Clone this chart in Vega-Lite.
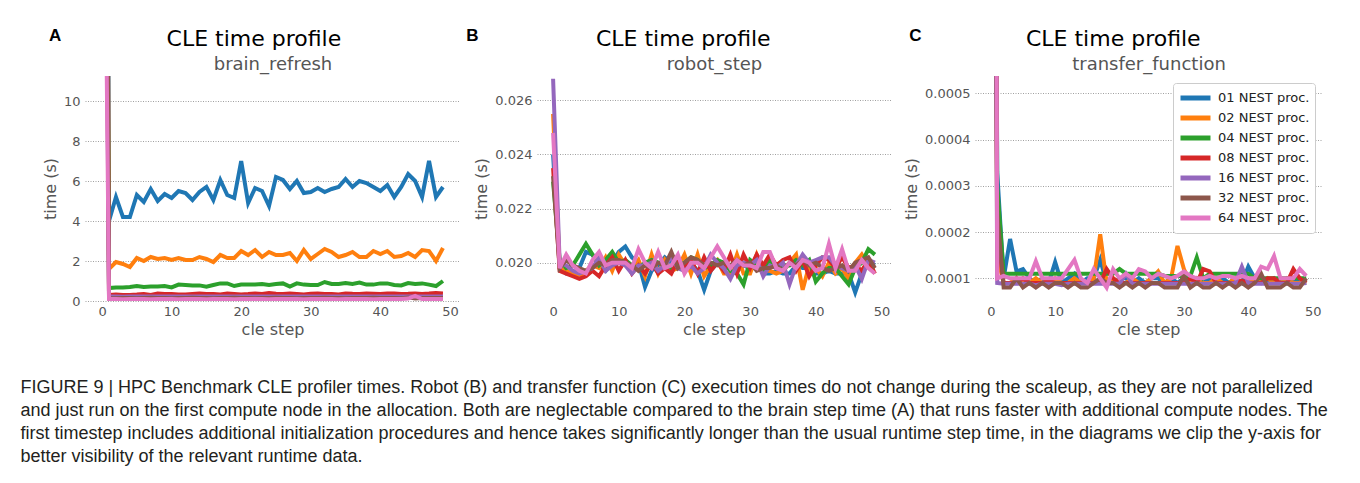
{
"$schema": "https://vega.github.io/schema/vega-lite/v6.json",
"background": "white",
"padding": {"left": 20, "top": 26, "right": 0, "bottom": 0},
"data": {"values": [
{"p":"A","s":0,"01":100,"02":80,"04":60,"08":50,"16":45,"32":90,"64":35},
{"p":"A","s":1,"01":4.0,"02":1.6,"04":0.65,"08":0.30,"16":0.22,"32":0.15,"64":0.10},
{"p":"A","s":2,"01":5.2,"02":1.95,"04":0.68,"08":0.32,"16":0.22,"32":0.14,"64":0.10},
{"p":"A","s":3,"01":4.2,"02":1.85,"04":0.68,"08":0.30,"16":0.21,"32":0.15,"64":0.09},
{"p":"A","s":4,"01":4.2,"02":1.7,"04":0.70,"08":0.30,"16":0.22,"32":0.15,"64":0.10},
{"p":"A","s":5,"01":5.3,"02":2.15,"04":0.75,"08":0.32,"16":0.22,"32":0.14,"64":0.10},
{"p":"A","s":6,"01":4.95,"02":2.0,"04":0.70,"08":0.35,"16":0.23,"32":0.15,"64":0.10},
{"p":"A","s":7,"01":5.6,"02":2.2,"04":0.72,"08":0.30,"16":0.22,"32":0.16,"64":0.09},
{"p":"A","s":8,"01":5.0,"02":2.1,"04":0.72,"08":0.38,"16":0.22,"32":0.15,"64":0.10},
{"p":"A","s":9,"01":5.35,"02":2.15,"04":0.75,"08":0.35,"16":0.23,"32":0.15,"64":0.10},
{"p":"A","s":10,"01":5.15,"02":2.05,"04":0.68,"08":0.35,"16":0.22,"32":0.14,"64":0.10},
{"p":"A","s":11,"01":5.5,"02":2.15,"04":0.82,"08":0.33,"16":0.22,"32":0.15,"64":0.09},
{"p":"A","s":12,"01":5.4,"02":2.05,"04":0.80,"08":0.32,"16":0.23,"32":0.15,"64":0.10},
{"p":"A","s":13,"01":5.05,"02":2.05,"04":0.78,"08":0.35,"16":0.22,"32":0.16,"64":0.10},
{"p":"A","s":14,"01":5.45,"02":2.2,"04":0.78,"08":0.38,"16":0.22,"32":0.15,"64":0.10},
{"p":"A","s":15,"01":5.7,"02":2.1,"04":0.72,"08":0.35,"16":0.23,"32":0.15,"64":0.09},
{"p":"A","s":16,"01":5.05,"02":1.95,"04":0.80,"08":0.35,"16":0.22,"32":0.14,"64":0.10},
{"p":"A","s":17,"01":6.05,"02":2.3,"04":0.88,"08":0.33,"16":0.22,"32":0.15,"64":0.10},
{"p":"A","s":18,"01":5.3,"02":2.15,"04":0.88,"08":0.37,"16":0.23,"32":0.15,"64":0.10},
{"p":"A","s":19,"01":5.15,"02":2.15,"04":0.75,"08":0.35,"16":0.22,"32":0.16,"64":0.09},
{"p":"A","s":20,"01":7.0,"02":2.5,"04":0.82,"08":0.33,"16":0.22,"32":0.15,"64":0.10},
{"p":"A","s":21,"01":4.9,"02":2.3,"04":0.82,"08":0.35,"16":0.23,"32":0.15,"64":0.10},
{"p":"A","s":22,"01":5.65,"02":2.55,"04":0.82,"08":0.38,"16":0.22,"32":0.14,"64":0.10},
{"p":"A","s":23,"01":5.5,"02":2.2,"04":0.85,"08":0.35,"16":0.22,"32":0.15,"64":0.10},
{"p":"A","s":24,"01":4.75,"02":2.45,"04":0.80,"08":0.40,"16":0.23,"32":0.15,"64":0.09},
{"p":"A","s":25,"01":6.2,"02":2.3,"04":0.85,"08":0.36,"16":0.22,"32":0.16,"64":0.10},
{"p":"A","s":26,"01":6.05,"02":2.3,"04":0.88,"08":0.35,"16":0.22,"32":0.15,"64":0.10},
{"p":"A","s":27,"01":5.6,"02":2.4,"04":0.72,"08":0.37,"16":0.23,"32":0.15,"64":0.10},
{"p":"A","s":28,"01":6.0,"02":2.0,"04":0.88,"08":0.35,"16":0.22,"32":0.14,"64":0.10},
{"p":"A","s":29,"01":5.4,"02":2.55,"04":0.82,"08":0.33,"16":0.22,"32":0.15,"64":0.09},
{"p":"A","s":30,"01":5.45,"02":2.1,"04":0.80,"08":0.36,"16":0.23,"32":0.15,"64":0.10},
{"p":"A","s":31,"01":5.65,"02":2.35,"04":0.80,"08":0.37,"16":0.22,"32":0.15,"64":0.10},
{"p":"A","s":32,"01":5.45,"02":2.6,"04":0.95,"08":0.35,"16":0.22,"32":0.16,"64":0.10},
{"p":"A","s":33,"01":5.6,"02":2.45,"04":0.85,"08":0.35,"16":0.23,"32":0.15,"64":0.10},
{"p":"A","s":34,"01":5.7,"02":2.2,"04":0.85,"08":0.33,"16":0.22,"32":0.15,"64":0.09},
{"p":"A","s":35,"01":6.1,"02":2.3,"04":0.90,"08":0.38,"16":0.22,"32":0.14,"64":0.10},
{"p":"A","s":36,"01":5.7,"02":2.45,"04":0.85,"08":0.36,"16":0.23,"32":0.15,"64":0.10},
{"p":"A","s":37,"01":6.0,"02":2.2,"04":0.92,"08":0.35,"16":0.22,"32":0.15,"64":0.10},
{"p":"A","s":38,"01":5.9,"02":2.2,"04":0.82,"08":0.37,"16":0.22,"32":0.15,"64":0.10},
{"p":"A","s":39,"01":5.7,"02":2.5,"04":0.82,"08":0.36,"16":0.23,"32":0.16,"64":0.09},
{"p":"A","s":40,"01":5.5,"02":2.35,"04":0.88,"08":0.35,"16":0.22,"32":0.15,"64":0.10},
{"p":"A","s":41,"01":5.8,"02":2.5,"04":0.88,"08":0.37,"16":0.22,"32":0.15,"64":0.10},
{"p":"A","s":42,"01":5.2,"02":2.2,"04":0.80,"08":0.38,"16":0.23,"32":0.15,"64":0.10},
{"p":"A","s":43,"01":5.7,"02":2.25,"04":0.78,"08":0.35,"16":0.22,"32":0.14,"64":0.10},
{"p":"A","s":44,"01":6.35,"02":2.4,"04":0.90,"08":0.36,"16":0.22,"32":0.18,"64":0.12},
{"p":"A","s":45,"01":6.0,"02":2.2,"04":0.85,"08":0.38,"16":0.23,"32":0.12,"64":0.25},
{"p":"A","s":46,"01":5.2,"02":2.55,"04":0.88,"08":0.35,"16":0.22,"32":0.15,"64":0.10},
{"p":"A","s":47,"01":7.0,"02":2.5,"04":0.82,"08":0.37,"16":0.22,"32":0.15,"64":0.10},
{"p":"A","s":48,"01":5.2,"02":2.0,"04":0.75,"08":0.40,"16":0.23,"32":0.15,"64":0.10},
{"p":"A","s":49,"01":5.7,"02":2.65,"04":1.0,"08":0.38,"16":0.22,"32":0.15,"64":0.10},
{"p":"B","s":0,"01":0.0240,"02":0.0255,"04":0.0230,"08":0.0235,"16":0.0268,"32":0.0232,"64":0.0248},
{"p":"B","s":1,"01":0.0198,"02":0.0198,"04":0.0201,"08":0.0197,"16":0.0200,"32":0.0198,"64":0.0198},
{"p":"B","s":2,"01":0.0196,"02":0.0197,"04":0.0198,"08":0.0196,"16":0.0199,"32":0.0201,"64":0.0203},
{"p":"B","s":3,"01":0.0196,"02":0.0196,"04":0.0199,"08":0.0195,"16":0.0197,"32":0.0199,"64":0.0199},
{"p":"B","s":4,"01":0.0198,"02":0.0195,"04":0.0203,"08":0.0194,"16":0.0196,"32":0.0198,"64":0.0197},
{"p":"B","s":5,"01":0.0204,"02":0.0197,"04":0.0207,"08":0.0195,"16":0.0197,"32":0.0197,"64":0.0196},
{"p":"B","s":6,"01":0.0203,"02":0.0199,"04":0.0203,"08":0.0197,"16":0.0198,"32":0.0198,"64":0.0201},
{"p":"B","s":7,"01":0.0199,"02":0.0198,"04":0.0199,"08":0.0195,"16":0.0202,"32":0.0200,"64":0.0204},
{"p":"B","s":8,"01":0.0197,"02":0.0202,"04":0.0201,"08":0.0199,"16":0.0197,"32":0.0199,"64":0.0199},
{"p":"B","s":9,"01":0.0200,"02":0.0197,"04":0.0204,"08":0.0202,"16":0.0199,"32":0.0201,"64":0.0200},
{"p":"B","s":10,"01":0.0204,"02":0.0203,"04":0.0200,"08":0.0197,"16":0.0200,"32":0.0201,"64":0.0200},
{"p":"B","s":11,"01":0.0206,"02":0.0199,"04":0.0201,"08":0.0201,"16":0.0199,"32":0.0200,"64":0.0200},
{"p":"B","s":12,"01":0.0202,"02":0.0198,"04":0.0199,"08":0.0196,"16":0.0196,"32":0.0199,"64":0.0198},
{"p":"B","s":13,"01":0.0200,"02":0.0201,"04":0.0198,"08":0.0199,"16":0.0199,"32":0.0197,"64":0.0205},
{"p":"B","s":14,"01":0.0191,"02":0.0195,"04":0.0200,"08":0.0196,"16":0.0199,"32":0.0199,"64":0.0200},
{"p":"B","s":15,"01":0.0197,"02":0.0203,"04":0.0201,"08":0.0200,"16":0.0200,"32":0.0198,"64":0.0198},
{"p":"B","s":16,"01":0.0199,"02":0.0196,"04":0.0200,"08":0.0196,"16":0.0197,"32":0.0200,"64":0.0204},
{"p":"B","s":17,"01":0.0202,"02":0.0201,"04":0.0199,"08":0.0198,"16":0.0199,"32":0.0199,"64":0.0198},
{"p":"B","s":18,"01":0.0200,"02":0.0197,"04":0.0198,"08":0.0196,"16":0.0202,"32":0.0204,"64":0.0199},
{"p":"B","s":19,"01":0.0201,"02":0.0198,"04":0.0199,"08":0.0201,"16":0.0198,"32":0.0198,"64":0.0203},
{"p":"B","s":20,"01":0.0199,"02":0.0203,"04":0.0200,"08":0.0198,"16":0.0197,"32":0.0200,"64":0.0196},
{"p":"B","s":21,"01":0.0200,"02":0.0196,"04":0.0202,"08":0.0201,"16":0.0199,"32":0.0202,"64":0.0200},
{"p":"B","s":22,"01":0.0197,"02":0.0203,"04":0.0201,"08":0.0196,"16":0.0196,"32":0.0201,"64":0.0200},
{"p":"B","s":23,"01":0.0190,"02":0.0195,"04":0.0198,"08":0.0202,"16":0.0198,"32":0.0199,"64":0.0198},
{"p":"B","s":24,"01":0.0197,"02":0.0199,"04":0.0199,"08":0.0197,"16":0.0203,"32":0.0200,"64":0.0202},
{"p":"B","s":25,"01":0.0200,"02":0.0201,"04":0.0201,"08":0.0200,"16":0.0200,"32":0.0199,"64":0.0206},
{"p":"B","s":26,"01":0.0198,"02":0.0196,"04":0.0200,"08":0.0197,"16":0.0198,"32":0.0200,"64":0.0202},
{"p":"B","s":27,"01":0.0199,"02":0.0196,"04":0.0197,"08":0.0203,"16":0.0194,"32":0.0199,"64":0.0198},
{"p":"B","s":28,"01":0.0197,"02":0.0203,"04":0.0196,"08":0.0196,"16":0.0199,"32":0.0201,"64":0.0201},
{"p":"B","s":29,"01":0.0199,"02":0.0196,"04":0.0192,"08":0.0203,"16":0.0200,"32":0.0199,"64":0.0199},
{"p":"B","s":30,"01":0.0198,"02":0.0196,"04":0.0201,"08":0.0198,"16":0.0199,"32":0.0200,"64":0.0199},
{"p":"B","s":31,"01":0.0200,"02":0.0203,"04":0.0199,"08":0.0203,"16":0.0201,"32":0.0197,"64":0.0198},
{"p":"B","s":32,"01":0.0196,"02":0.0197,"04":0.0197,"08":0.0199,"16":0.0195,"32":0.0198,"64":0.0204},
{"p":"B","s":33,"01":0.0196,"02":0.0197,"04":0.0201,"08":0.0203,"16":0.0199,"32":0.0198,"64":0.0204},
{"p":"B","s":34,"01":0.0197,"02":0.0196,"04":0.0198,"08":0.0199,"16":0.0198,"32":0.0199,"64":0.0198},
{"p":"B","s":35,"01":0.0196,"02":0.0197,"04":0.0199,"08":0.0201,"16":0.0200,"32":0.0197,"64":0.0197},
{"p":"B","s":36,"01":0.0196,"02":0.0200,"04":0.0199,"08":0.0202,"16":0.0192,"32":0.0200,"64":0.0200},
{"p":"B","s":37,"01":0.0199,"02":0.0203,"04":0.0201,"08":0.0197,"16":0.0199,"32":0.0199,"64":0.0198},
{"p":"B","s":38,"01":0.0198,"02":0.0190,"04":0.0199,"08":0.0201,"16":0.0203,"32":0.0201,"64":0.0201},
{"p":"B","s":39,"01":0.0198,"02":0.0199,"04":0.0201,"08":0.0195,"16":0.0200,"32":0.0199,"64":0.0200},
{"p":"B","s":40,"01":0.0196,"02":0.0198,"04":0.0193,"08":0.0199,"16":0.0201,"32":0.0200,"64":0.0197},
{"p":"B","s":41,"01":0.0196,"02":0.0195,"04":0.0196,"08":0.0202,"16":0.0202,"32":0.0198,"64":0.0198},
{"p":"B","s":42,"01":0.0197,"02":0.0200,"04":0.0198,"08":0.0201,"16":0.0202,"32":0.0197,"64":0.0207},
{"p":"B","s":43,"01":0.0196,"02":0.0196,"04":0.0198,"08":0.0198,"16":0.0199,"32":0.0198,"64":0.0198},
{"p":"B","s":44,"01":0.0196,"02":0.0198,"04":0.0195,"08":0.0202,"16":0.0198,"32":0.0199,"64":0.0205},
{"p":"B","s":45,"01":0.0196,"02":0.0194,"04":0.0192,"08":0.0198,"16":0.0197,"32":0.0197,"64":0.0197},
{"p":"B","s":46,"01":0.0189,"02":0.0200,"04":0.0198,"08":0.0199,"16":0.0199,"32":0.0200,"64":0.0197},
{"p":"B","s":47,"01":0.0196,"02":0.0203,"04":0.0200,"08":0.0197,"16":0.0194,"32":0.0201,"64":0.0201},
{"p":"B","s":48,"01":0.0200,"02":0.0199,"04":0.0205,"08":0.0201,"16":0.0201,"32":0.0202,"64":0.0198},
{"p":"B","s":49,"01":0.0199,"02":0.0198,"04":0.0203,"08":0.0196,"16":0.0200,"32":0.0198,"64":0.0196},
{"p":"C","s":0,"01":0.004,"02":0.003,"04":0.004,"08":0.003,"16":0.003,"32":0.003,"64":0.006},
{"p":"C","s":1,"01":0.00033,"02":0.00015,"04":0.0003,"08":0.0002,"16":0.00009,"32":0.00024,"64":0.0001},
{"p":"C","s":2,"01":0.0001,"02":0.00009,"04":0.00011,"08":0.00009,"16":0.000088,"32":0.00008,"64":0.000105},
{"p":"C","s":3,"01":0.000185,"02":0.00009,"04":0.00011,"08":0.00009,"16":0.000088,"32":0.00008,"64":0.0001},
{"p":"C","s":4,"01":0.000115,"02":0.0001,"04":0.00011,"08":0.00009,"16":0.000088,"32":0.0001,"64":0.0001},
{"p":"C","s":5,"01":0.00012,"02":0.00009,"04":0.00011,"08":0.0001,"16":0.000088,"32":0.00008,"64":0.0001},
{"p":"C","s":6,"01":0.0001,"02":0.00009,"04":0.00011,"08":0.00009,"16":0.000088,"32":0.00009,"64":0.0001},
{"p":"C","s":7,"01":0.00009,"02":0.0001,"04":0.00011,"08":0.00009,"16":0.000085,"32":0.00008,"64":0.000137},
{"p":"C","s":8,"01":0.0001,"02":0.00009,"04":0.00011,"08":0.00009,"16":0.000088,"32":0.00009,"64":0.0001},
{"p":"C","s":9,"01":0.00009,"02":0.00009,"04":0.00011,"08":0.000095,"16":0.000088,"32":0.00008,"64":0.0001},
{"p":"C","s":10,"01":0.000135,"02":0.0001,"04":0.00011,"08":0.00009,"16":0.000088,"32":0.00009,"64":0.0001},
{"p":"C","s":11,"01":0.00009,"02":0.00009,"04":0.00011,"08":0.00009,"16":0.000085,"32":0.00009,"64":0.0001},
{"p":"C","s":12,"01":0.0001,"02":0.00009,"04":0.00011,"08":0.00009,"16":0.000088,"32":0.00008,"64":0.00012},
{"p":"C","s":13,"01":0.00011,"02":0.0001,"04":0.00011,"08":0.00009,"16":0.000088,"32":0.00009,"64":0.00014},
{"p":"C","s":14,"01":0.00009,"02":0.00009,"04":0.00011,"08":0.00009,"16":0.000088,"32":0.00008,"64":0.0001},
{"p":"C","s":15,"01":0.0001,"02":0.00009,"04":0.00011,"08":0.00009,"16":0.000088,"32":0.00008,"64":0.00009},
{"p":"C","s":16,"01":0.0001,"02":0.0001,"04":0.00011,"08":0.00009,"16":0.000088,"32":0.00009,"64":0.00012},
{"p":"C","s":17,"01":0.00014,"02":0.000195,"04":0.00011,"08":0.00009,"16":0.000088,"32":0.0001,"64":0.0001},
{"p":"C","s":18,"01":0.00009,"02":0.00009,"04":0.00011,"08":0.00012,"16":0.000088,"32":0.00009,"64":0.00008},
{"p":"C","s":19,"01":0.00009,"02":0.0001,"04":0.00011,"08":0.0001,"16":0.000088,"32":0.00009,"64":0.00012},
{"p":"C","s":20,"01":0.0001,"02":0.00009,"04":0.00012,"08":0.00009,"16":0.000088,"32":0.00008,"64":0.0001},
{"p":"C","s":21,"01":0.0001,"02":0.00009,"04":0.00011,"08":0.00009,"16":0.00011,"32":0.00009,"64":0.00011},
{"p":"C","s":22,"01":0.00009,"02":0.0001,"04":0.00011,"08":0.00009,"16":0.000088,"32":0.00008,"64":0.0001},
{"p":"C","s":23,"01":0.0001,"02":0.00009,"04":0.00011,"08":0.00009,"16":0.000088,"32":0.00009,"64":0.00012},
{"p":"C","s":24,"01":0.00009,"02":0.00009,"04":0.00011,"08":0.00009,"16":0.000088,"32":0.00008,"64":0.000115},
{"p":"C","s":25,"01":0.0001,"02":0.0001,"04":0.00011,"08":0.00009,"16":0.000088,"32":0.00009,"64":0.0001},
{"p":"C","s":26,"01":0.0001,"02":0.000115,"04":0.00011,"08":0.00009,"16":0.000088,"32":0.00009,"64":0.00011},
{"p":"C","s":27,"01":0.00009,"02":0.00009,"04":0.000105,"08":0.00009,"16":0.000088,"32":0.00008,"64":0.000105},
{"p":"C","s":28,"01":0.0001,"02":0.0001,"04":0.000105,"08":0.00009,"16":0.000088,"32":0.00008,"64":0.0001},
{"p":"C","s":29,"01":0.00009,"02":0.00017,"04":0.000105,"08":0.00009,"16":0.000088,"32":0.00008,"64":0.000105},
{"p":"C","s":30,"01":0.0001,"02":0.00012,"04":0.000105,"08":0.00009,"16":0.000088,"32":0.000105,"64":0.000115},
{"p":"C","s":31,"01":0.00009,"02":0.00009,"04":0.000105,"08":0.0001,"16":0.000088,"32":0.00008,"64":0.000105},
{"p":"C","s":32,"01":0.0001,"02":0.0001,"04":0.000145,"08":0.00009,"16":0.000088,"32":0.00009,"64":0.0001},
{"p":"C","s":33,"01":0.00009,"02":0.00009,"04":0.0001,"08":0.00012,"16":0.000088,"32":0.00008,"64":0.0001},
{"p":"C","s":34,"01":0.0001,"02":0.00009,"04":0.00011,"08":0.000115,"16":0.000088,"32":0.00008,"64":0.000105},
{"p":"C","s":35,"01":0.00009,"02":0.0001,"04":0.00011,"08":0.00009,"16":0.000088,"32":0.00009,"64":0.0001},
{"p":"C","s":36,"01":0.0001,"02":0.00009,"04":0.00011,"08":0.00009,"16":0.000088,"32":0.00008,"64":0.000105},
{"p":"C","s":37,"01":0.00009,"02":0.00009,"04":0.00011,"08":0.00009,"16":0.000088,"32":0.00009,"64":0.000105},
{"p":"C","s":38,"01":0.0001,"02":0.0001,"04":0.00011,"08":0.00009,"16":0.00009,"32":0.00008,"64":0.0001},
{"p":"C","s":39,"01":0.00009,"02":0.00009,"04":0.00011,"08":0.000095,"16":0.000125,"32":0.00009,"64":0.000105},
{"p":"C","s":40,"01":0.000125,"02":0.00009,"04":0.00011,"08":0.00009,"16":0.00009,"32":0.00008,"64":0.0001},
{"p":"C","s":41,"01":0.0001,"02":0.0001,"04":0.0001,"08":0.00009,"16":0.000088,"32":0.00009,"64":0.0001},
{"p":"C","s":42,"01":0.00009,"02":0.00009,"04":0.0001,"08":0.00009,"16":0.000088,"32":0.00011,"64":0.000125},
{"p":"C","s":43,"01":0.00009,"02":0.0001,"04":0.0001,"08":0.0001,"16":0.000088,"32":0.00008,"64":0.00012},
{"p":"C","s":44,"01":0.0001,"02":0.00009,"04":0.0001,"08":0.0001,"16":0.000088,"32":0.00008,"64":0.000148},
{"p":"C","s":45,"01":0.00009,"02":0.00009,"04":0.0001,"08":0.00009,"16":0.000088,"32":0.00008,"64":0.0001},
{"p":"C","s":46,"01":0.00009,"02":0.0001,"04":0.0001,"08":0.00009,"16":0.000088,"32":0.00009,"64":0.0001},
{"p":"C","s":47,"01":0.0001,"02":0.00009,"04":0.0001,"08":0.00012,"16":0.000088,"32":0.00008,"64":0.0001},
{"p":"C","s":48,"01":0.00009,"02":0.00009,"04":0.0001,"08":0.0001,"16":0.000088,"32":0.00008,"64":0.00012},
{"p":"C","s":49,"01":0.00009,"02":0.00009,"04":0.0001,"08":0.00009,"16":0.00009,"32":0.0001,"64":0.000105}
]},
"title": {
  "text": [
    "FIGURE 9 | HPC Benchmark CLE profiler times. Robot (B) and transfer function (C) execution times do not change during the scaleup, as they are not parallelized",
    "and just run on the first compute node in the allocation. Both are neglectable compared to the brain step time (A) that runs faster with additional compute nodes. The",
    "first timestep includes additional initialization procedures and hence takes significantly longer than the usual runtime step time, in the diagrams we clip the y-axis for",
    "better visibility of the relevant runtime data."
  ],
  "orient": "bottom", "anchor": "start", "frame": "group", "offset": 42, "dx": -64.6,
  "font": "Liberation Sans", "fontSize": 18, "fontWeight": "normal", "color": "#231f20", "lineHeight": 23
},
"spacing": 12,
"resolve": {"legend": {"color": "independent"}},
"hconcat": [
{
"spacing": 5,
"resolve": {"legend": {"color": "independent"}},
"hconcat": [
{
  "width": 375, "height": 225,
  "transform": [{"filter": "datum.p === 'A'"}, {"fold": ["01","02","04","08","16","32","64"], "as": ["proc","t"]}],
  "resolve": {"axis": {"x": "independent"}},
  "layer": [
    {"mark": {"type": "line", "clip": true, "strokeWidth": 4},
     "encoding": {
       "x": {"field": "s", "type": "quantitative", "scale": {"domain": [-2.45, 51.45], "nice": false, "zero": false}, "axis": {"title": "cle step", "values": [0,10,20,30,40,50], "grid": false}},
       "y": {"field": "t", "type": "quantitative", "scale": {"domain": [0, 11.25], "nice": false, "zero": false}, "axis": {"title": "time (s)", "values": [0,2,4,6,8,10]}},
       "color": {"field": "proc", "type": "nominal", "scale": {"domain": ["01","02","04","08","16","32","64"], "range": ["#1f77b4","#ff7f0e","#2ca02c","#d62728","#9467bd","#8c564b","#e377c2"]}, "legend": null}
     }},
    {"mark": {"type": "rule", "opacity": 0},
     "encoding": {"x": {"datum": 0, "type": "quantitative", "axis": {"orient": "top", "title": "brain_refresh", "labels": false, "grid": false, "titleFontSize": 18, "titleColor": "#555", "titleY": -7, "titleBaseline": "alphabetic"}}}},
    {"mark": {"type": "rule", "opacity": 0},
     "encoding": {"x": {"datum": 0, "type": "quantitative", "axis": {"orient": "top", "title": "CLE time profile", "labels": false, "grid": false, "titleFontSize": 22, "titleColor": "#000", "titleX": 168.4, "titleY": -31, "titleAlign": "center", "titleBaseline": "alphabetic"}}}},
    {"mark": {"type": "rule", "opacity": 0},
     "encoding": {"x": {"datum": 0, "type": "quantitative", "axis": {"orient": "top", "title": "A", "labels": false, "grid": false, "titleFont": "Liberation Sans", "titleFontWeight": "bold", "titleFontSize": 17, "titleColor": "#000", "titleX": -36.6, "titleY": -36, "titleAlign": "left", "titleBaseline": "alphabetic"}}}}
  ]
},
{
  "width": 354, "height": 225,
  "transform": [{"filter": "datum.p === 'B'"}, {"fold": ["01","02","04","08","16","32","64"], "as": ["proc","t"]}],
  "resolve": {"axis": {"x": "independent"}},
  "layer": [
    {"mark": {"type": "line", "clip": true, "strokeWidth": 4},
     "encoding": {
       "x": {"field": "s", "type": "quantitative", "scale": {"domain": [-2.45, 51.45], "nice": false, "zero": false}, "axis": {"title": "cle step", "values": [0,10,20,30,40,50], "grid": false}},
       "y": {"field": "t", "type": "quantitative", "scale": {"domain": [0.018585, 0.0269], "nice": false, "zero": false}, "axis": {"title": "time (s)", "values": [0.020,0.022,0.024,0.026], "format": ".3f"}},
       "color": {"field": "proc", "type": "nominal", "scale": {"domain": ["01","02","04","08","16","32","64"], "range": ["#1f77b4","#ff7f0e","#2ca02c","#d62728","#9467bd","#8c564b","#e377c2"]}, "legend": null}
     }},
    {"mark": {"type": "rule", "opacity": 0},
     "encoding": {"x": {"datum": 0, "type": "quantitative", "axis": {"orient": "top", "title": "robot_step", "labels": false, "grid": false, "titleFontSize": 18, "titleColor": "#555", "titleY": -7, "titleBaseline": "alphabetic"}}}},
    {"mark": {"type": "rule", "opacity": 0},
     "encoding": {"x": {"datum": 0, "type": "quantitative", "axis": {"orient": "top", "title": "CLE time profile", "labels": false, "grid": false, "titleFontSize": 22, "titleColor": "#000", "titleX": 145.8, "titleY": -31, "titleAlign": "center", "titleBaseline": "alphabetic"}}}},
    {"mark": {"type": "rule", "opacity": 0},
     "encoding": {"x": {"datum": 0, "type": "quantitative", "axis": {"orient": "top", "title": "B", "labels": false, "grid": false, "titleFont": "Liberation Sans", "titleFontWeight": "bold", "titleFontSize": 17, "titleColor": "#000", "titleX": -71.2, "titleY": -36, "titleAlign": "left", "titleBaseline": "alphabetic"}}}}
  ]
}
]
},
{
  "width": 347, "height": 225,
  "transform": [{"filter": "datum.p === 'C'"}, {"fold": ["01","02","04","08","16","32","64"], "as": ["proc","t"]}],
  "resolve": {"axis": {"x": "independent"}},
  "layer": [
    {"mark": {"type": "line", "clip": true, "strokeWidth": 4},
     "encoding": {
       "x": {"field": "s", "type": "quantitative", "scale": {"domain": [-2.45, 51.45], "nice": false, "zero": false}, "axis": {"title": "cle step", "values": [0,10,20,30,40,50], "grid": false}},
       "y": {"field": "t", "type": "quantitative", "scale": {"domain": [0.0000509, 0.0005374], "nice": false, "zero": false}, "axis": {"title": "time (s)", "values": [0.0001,0.0002,0.0003,0.0004,0.0005], "format": ".4f"}},
       "color": {"field": "proc", "type": "nominal", "scale": {"domain": ["01","02","04","08","16","32","64"], "range": ["#1f77b4","#ff7f0e","#2ca02c","#d62728","#9467bd","#8c564b","#e377c2"]},
         "legend": {"orient": "top-right", "offset": 7, "title": null, "labelExpr": "datum.label + ' NEST proc.'", "labelFont": "DejaVu Sans", "labelFontSize": 13, "labelColor": "#222", "symbolType": "M-1,0H3", "symbolSize": 225, "symbolStrokeWidth": 5, "labelOffset": 20, "padding": 5, "rowPadding": 0, "strokeColor": "#cccccc", "fillColor": "white", "cornerRadius": 3, "labelLimit": 300}}
     }},
    {"mark": {"type": "rule", "opacity": 0},
     "encoding": {"x": {"datum": 0, "type": "quantitative", "axis": {"orient": "top", "title": "transfer_function", "labels": false, "grid": false, "titleFontSize": 18, "titleColor": "#555", "titleY": -7, "titleBaseline": "alphabetic"}}}},
    {"mark": {"type": "rule", "opacity": 0},
     "encoding": {"x": {"datum": 0, "type": "quantitative", "axis": {"orient": "top", "title": "CLE time profile", "labels": false, "grid": false, "titleFontSize": 22, "titleColor": "#000", "titleX": 137.8, "titleY": -31, "titleAlign": "center", "titleBaseline": "alphabetic"}}}},
    {"mark": {"type": "rule", "opacity": 0},
     "encoding": {"x": {"datum": 0, "type": "quantitative", "axis": {"orient": "top", "title": "C", "labels": false, "grid": false, "titleFont": "Liberation Sans", "titleFontWeight": "bold", "titleFontSize": 17, "titleColor": "#000", "titleX": -66.2, "titleY": -36, "titleAlign": "left", "titleBaseline": "alphabetic"}}}}
  ]
}
],
"config": {
  "view": {"stroke": null},
  "axis": {"labelFont": "DejaVu Sans", "titleFont": "DejaVu Sans", "labelFontSize": 13, "titleFontSize": 16, "labelColor": "#555", "titleColor": "#555", "titleFontWeight": "normal", "ticks": false, "tickSize": 0, "domain": false, "gridColor": "#888", "gridDash": [1, 1.5], "gridWidth": 0.8, "labelPadding": 5, "titlePadding": 5},
  "axisX": {"labelPadding": 4, "titlePadding": 3},
  "legend": {"symbolType": "stroke"}
}
}
